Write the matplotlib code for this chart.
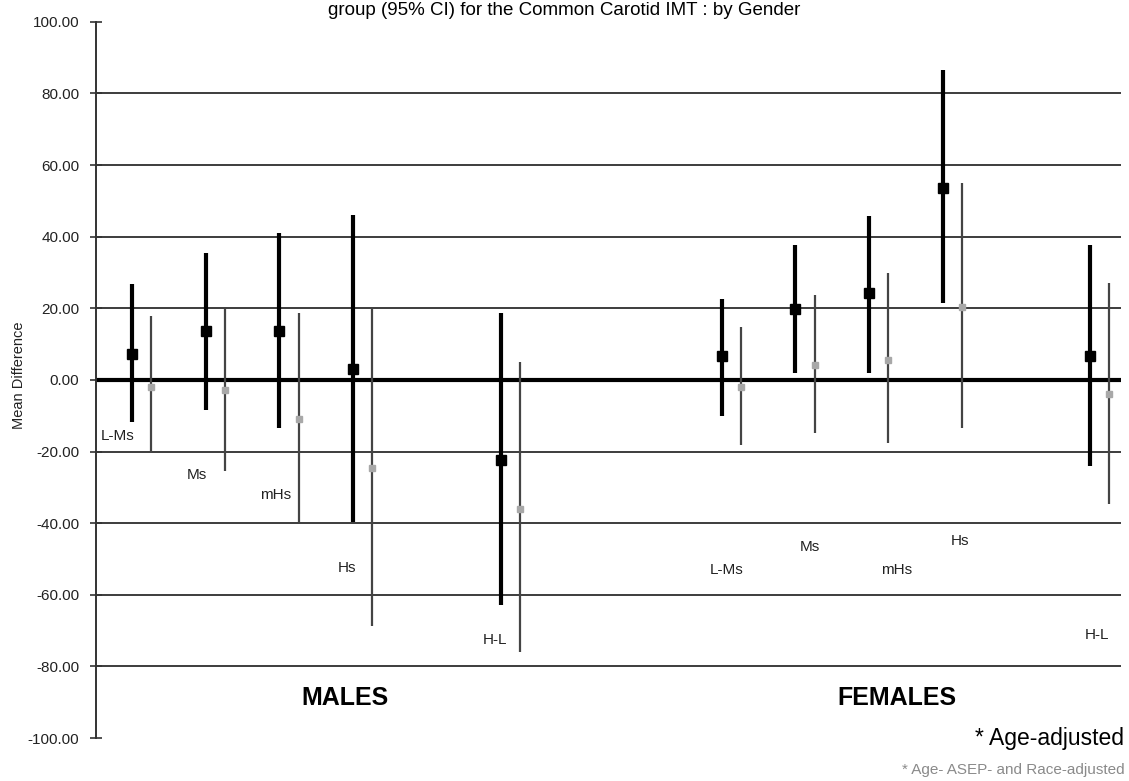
import matplotlib
matplotlib.use("Agg")
import matplotlib.pyplot as plt
import numpy as np

# Comparison groups and their x positions
groups = ["L-Ms", "Ms", "mHs", "Hs", "H-L"]
male_pos = [1, 2, 3, 4, 6]
female_pos = [9, 10, 11, 12, 14]

# Age-adjusted mean differences with 95% CI
male_age_mean = [7.3, 13.7, 13.7, 3.0, -22.3]
male_age_lo = [-11.7, -8.4, -13.4, -39.7, -62.8]
male_age_hi = [26.8, 35.5, 41.0, 46.0, 18.7]
female_age_mean = [6.7, 19.8, 24.3, 53.6, 6.7]
female_age_lo = [-10.0, 2.0, 2.0, 21.5, -24.0]
female_age_hi = [22.6, 37.7, 45.8, 86.6, 37.7]

# Age-, ASEP- and race-adjusted mean differences with 95% CI
male_full_mean = [-2.0, -2.8, -10.9, -24.6, -36.0]
male_full_lo = [-20.4, -25.4, -39.7, -68.7, -76.0]
male_full_hi = [17.9, 19.8, 18.7, 20.0, 5.0]
female_full_mean = [-1.9, 4.2, 5.6, 20.4, -3.9]
female_full_lo = [-18.2, -14.8, -17.6, -13.4, -34.6]
female_full_hi = [14.8, 23.7, 29.9, 55.0, 27.0]

# Group label placement
male_label_x = [0.81, 1.88, 2.95, 3.91, 5.93]
male_label_y = [-15.6, -26.5, -32.0, -52.5, -72.6]
female_label_x = [9.07, 10.20, 11.37, 12.23, 14.09]
female_label_y = [-53.0, -46.6, -53.0, -45.0, -71.2]

yticks = [100, 80, 60, 40, 20, 0, -20, -40, -60, -80, -100]
gridlines = [80, 60, 40, 20, -20, -40, -60, -80]

sans = ["Liberation Sans", "DejaVu Sans"]

fig = plt.figure(figsize=(11.29, 7.81), dpi=100)
ax = fig.add_axes([0.085, 0.055, 0.908, 0.917])
ax.set_xlim(0.51, 14.42)
ax.set_ylim(-100, 100)

for g in gridlines:
    ax.axhline(g, color="#3c3c3c", lw=1.4, zorder=1)
ax.axhline(0, color="black", lw=3.0, zorder=2)

offset = 0.26


def draw(pos, mean, lo, hi, dx, lcol, lw, mcol, ms):
    x = np.array(pos) + dx
    mean = np.array(mean)
    yerr = [mean - np.array(lo), np.array(hi) - mean]
    ax.errorbar(x, mean, yerr=yerr, fmt="s", color=lcol, ecolor=lcol,
                elinewidth=lw, capsize=0, markersize=ms,
                markerfacecolor=mcol, markeredgecolor=mcol, zorder=3)


draw(male_pos, male_age_mean, male_age_lo, male_age_hi, 0, "black", 3.0, "black", 6.5)
draw(female_pos, female_age_mean, female_age_lo, female_age_hi, 0, "black", 3.0, "black", 6.5)
draw(male_pos, male_full_mean, male_full_lo, male_full_hi, offset, "#444444", 1.6, "#a8a8a8", 4.5)
draw(female_pos, female_full_mean, female_full_lo, female_full_hi, offset, "#444444", 1.6, "#a8a8a8", 4.5)

for x, y, g in zip(male_label_x, male_label_y, groups):
    ax.text(x, y, g, ha="center", va="center", fontsize=11, family=sans, color="#222222")
for x, y, g in zip(female_label_x, female_label_y, groups):
    ax.text(x, y, g, ha="center", va="center", fontsize=11, family=sans, color="#222222")

ax.set_yticks(yticks)
ax.set_yticklabels([f"{v:.2f}" for v in yticks], fontsize=11, family=sans, color="#222222")
ax.tick_params(axis="y", direction="inout", length=8, width=1.2, color="#333333", pad=8)
ax.set_xticks([])
for s in ["top", "right", "bottom"]:
    ax.spines[s].set_visible(False)
ax.spines["left"].set_color("#333333")
ax.spines["left"].set_linewidth(1.4)
ax.set_ylabel("Mean Difference", fontsize=10.5, family=sans, color="#222222")
ax.yaxis.set_label_coords(-0.068, 0.507)

fig.text(0.5, 0.987, "group (95% CI) for the Common Carotid IMT : by Gender",
         ha="center", va="center", fontsize=13.5, family=sans, color="black")

ax.text(3.89, -88.8, "MALES", ha="center", va="center", fontsize=18, fontweight="bold",
        family=sans, color="black")
ax.text(11.38, -88.8, "FEMALES", ha="center", va="center", fontsize=18, fontweight="bold",
        family=sans, color="black")

fig.text(0.996, 0.046, "* Age-adjusted", ha="right", va="baseline", fontsize=16.5,
         family=sans, color="black")
fig.text(0.996, 0.009, "* Age- ASEP- and Race-adjusted", ha="right", va="baseline",
         fontsize=11, family=sans, color="#8a8a8a")

fig.savefig("out.png", dpi=100, facecolor="white")
